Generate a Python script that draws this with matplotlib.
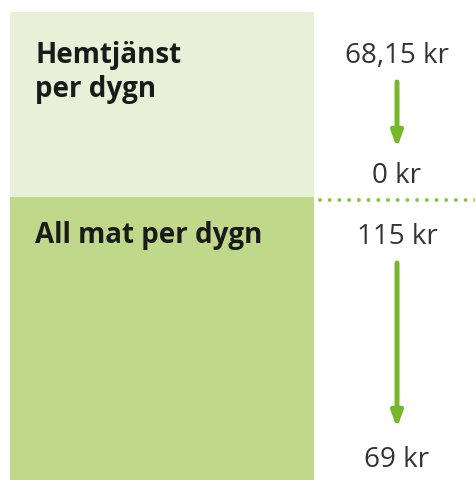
import matplotlib.pyplot as plt
from matplotlib.patches import Rectangle

# --- data ---
labels = ["Hemtjänst\nper dygn", "All mat per dygn"]
from_values = ["68,15 kr", "115 kr"]
to_values = ["0 kr", "69 kr"]
panel_colors = ["#e8f0d8", "#bfd889"]

plt.rcParams["font.family"] = ["Open Sans", "DejaVu Sans"]

fig = plt.figure(figsize=(4.75, 4.8), dpi=100)
ax = fig.add_axes([0, 0, 1, 1])
ax.set_xlim(0, 475)
ax.set_ylim(480, 0)
ax.axis("off")

# layout in pixel-like units
panels = [(12, 197), (197, 480)]
label_base = [63, 243]
value_base = [(63, 183), (244, 467)]
arrow_y = [(82, 148), (263, 428)]
value_x = 397
arrow_col = "#76b82a"
fs = 20

for i, lab in enumerate(labels):
    top, bot = panels[i]
    ax.add_patch(Rectangle((10, top), 304, bot - top, facecolor=panel_colors[i],
                           edgecolor="none"))
    for k, line in enumerate(lab.split("\n")):
        ax.text(35, label_base[i] + 34 * k, line, fontsize=fs, fontweight="bold",
                color="#1a1a1a", ha="left", va="baseline")
    ax.text(value_x, value_base[i][0], from_values[i], fontsize=fs, color="#333333",
            ha="center", va="baseline")
    ax.text(value_x, value_base[i][1], to_values[i], fontsize=fs, color="#333333",
            ha="center", va="baseline")
    y0, y1 = arrow_y[i]
    ax.annotate("", xy=(value_x, y1), xytext=(value_x, y0),
                arrowprops=dict(arrowstyle="-|>,head_length=0.9,head_width=0.33",
                                color=arrow_col, lw=3.6, shrinkA=0, shrinkB=0))

# dotted separator to the right (runs off the edge)
ax.plot([320, 490], [200, 200], linestyle=(0, (0.01, 2.4)), color="#8cc63f",
        lw=2.9, dash_capstyle="round", clip_on=True)

fig.savefig("out.png", dpi=100)
